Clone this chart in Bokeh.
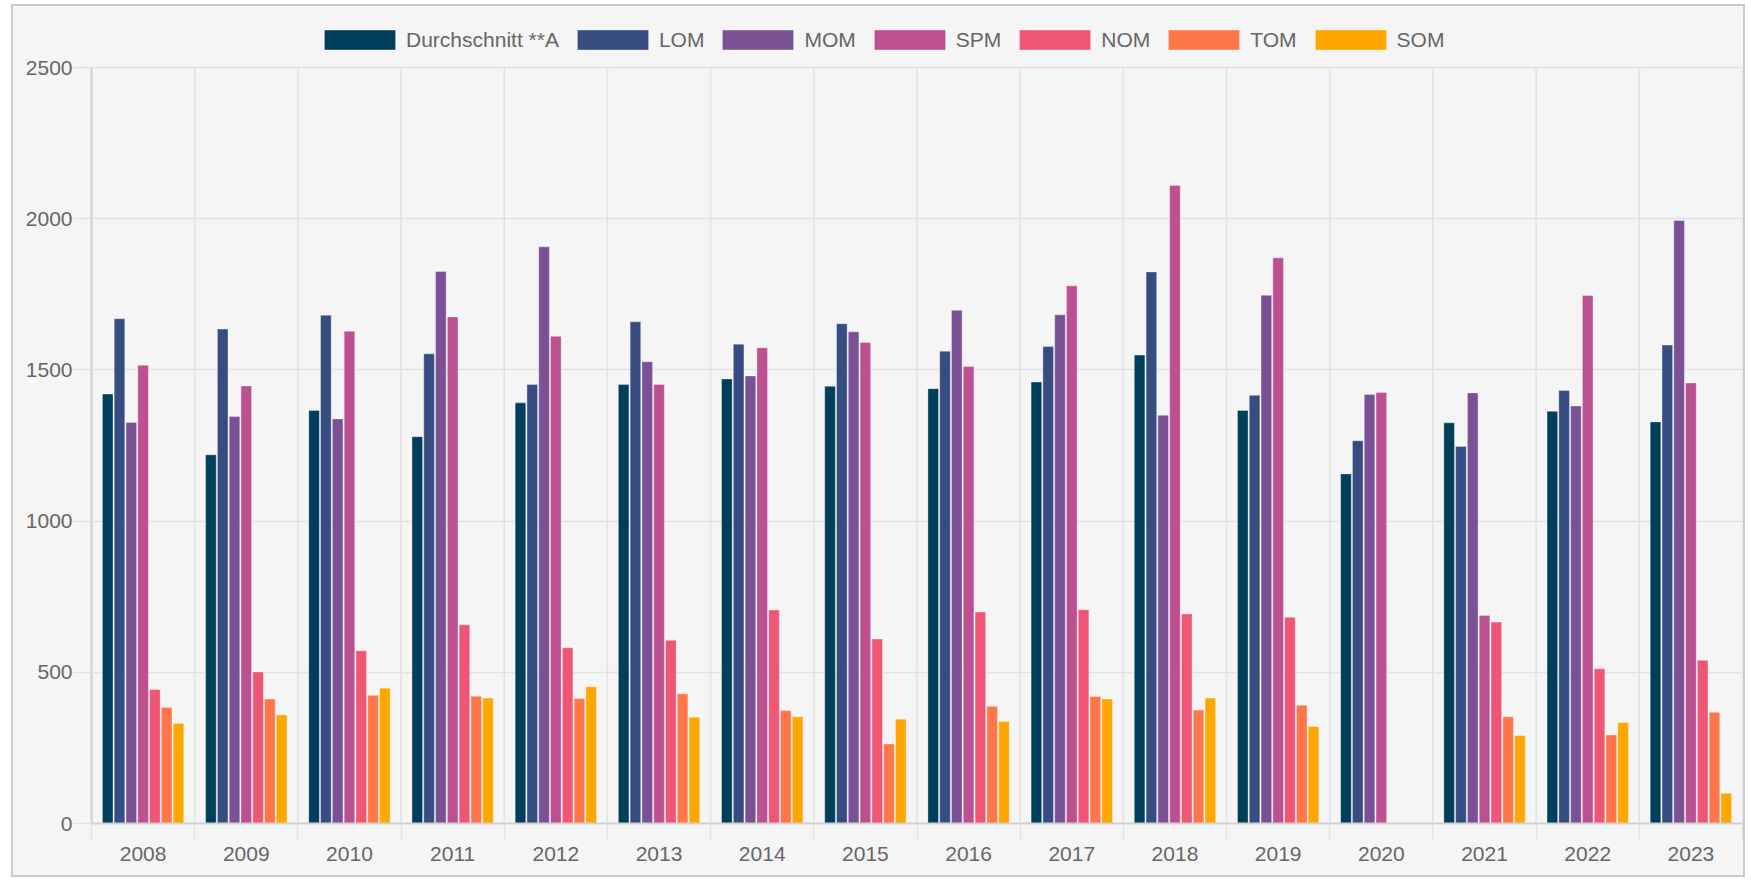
from bokeh.plotting import figure
from bokeh.models import Range1d, FixedTicker, Legend, LegendItem, ColumnDataSource
from bokeh.transform import dodge
from bokeh.embed import file_html
from bokeh.resources import INLINE

nan = float("nan")

years = [str(y) for y in range(2008, 2024)]
series_names = ["Durchschnitt **A", "LOM", "MOM", "SPM", "NOM", "TOM", "SOM"]
colors = ["#003f5c", "#374c80", "#7a5195", "#bc5090", "#ef5675", "#ff764a", "#ffa600"]

durchschnitt = [1420, 1219, 1366, 1279, 1391, 1452, 1470, 1446, 1438, 1460, 1549, 1366, 1156, 1325, 1363, 1328]
lom = [1669, 1635, 1681, 1553, 1452, 1659, 1585, 1653, 1562, 1577, 1824, 1416, 1266, 1247, 1432, 1582]
mom = [1326, 1346, 1338, 1825, 1907, 1527, 1480, 1626, 1697, 1682, 1350, 1747, 1419, 1424, 1381, 1994]
spm = [1515, 1447, 1628, 1675, 1611, 1452, 1573, 1591, 1511, 1778, 2110, 1871, 1425, 688, 1746, 1457]
nom = [443, 501, 571, 657, 581, 606, 706, 610, 699, 707, 693, 682, nan, 666, 512, 540]
tom = [384, 412, 424, 421, 413, 429, 374, 263, 388, 420, 375, 391, nan, 353, 293, 368]
som = [331, 359, 447, 415, 452, 351, 353, 345, 337, 412, 415, 321, nan, 291, 334, 100]

y_ticks = [0, 500, 1000, 1500, 2000, 2500]

series_values = [durchschnitt, lom, mom, spm, nom, tom, som]

FONT = "Liberation Sans"
TXT = "#666666"
GRID = "#e2e2e2"
AXIS = "#d0d0d0"
BG = "#f5f5f5"

n = len(years)
centers = [i + 0.5 for i in range(n)]
bounds = list(range(n + 1))
y_max = y_ticks[-1]

# layout (pixels): frame spans 12..823 vertically, value axis 0..2500 spans 823..67
frame_h = 823 - 12
axis_px = 823 - 67
y_top = y_max * frame_h / axis_px

p = figure(
    width=1734, height=873,
    x_range=Range1d(0, n), y_range=Range1d(0, y_top),
    output_backend="svg", toolbar_location=None,
    min_border_left=78, min_border_right=5, min_border_top=6, min_border_bottom=56,
    background_fill_color=BG, border_fill_color=BG, outline_line_color=None,
    styles={"border": "2px solid #cacaca", "margin-left": "11px", "margin-top": "4px"},
)

# x axis: labels at category centres, tick marks (minor) at category boundaries
xa = p.xaxis[0]
xa.ticker = FixedTicker(ticks=centers, minor_ticks=bounds)
xa.major_label_overrides = {c: y for c, y in zip(centers, years)}
xa.major_tick_out = 16
xa.major_tick_in = 0
xa.major_tick_line_color = None
xa.minor_tick_out = 16
xa.minor_tick_in = 0
xa.minor_tick_line_color = GRID
xa.minor_tick_line_width = 1.5
xa.axis_line_color = AXIS
xa.axis_line_width = 2
xa.major_label_standoff = 7
xa.major_label_text_font = FONT
xa.major_label_text_font_size = "21px"
xa.major_label_text_color = TXT

ya = p.yaxis[0]
ya.ticker = FixedTicker(ticks=y_ticks)
ya.bounds = (0, y_max)
ya.major_tick_out = 18
ya.major_tick_in = 0
ya.major_tick_line_color = GRID
ya.major_tick_line_width = 1.5
ya.minor_tick_line_color = None
ya.axis_line_color = AXIS
ya.axis_line_width = 2
ya.major_label_standoff = 1
ya.major_label_text_font = FONT
ya.major_label_text_font_size = "21px"
ya.major_label_text_color = TXT

p.xgrid.grid_line_color = None
p.ygrid.ticker = FixedTicker(ticks=y_ticks)
p.ygrid.grid_line_color = GRID
p.ygrid.grid_line_width = 1.5

# vertical grid lines at category boundaries, limited to the value axis extent
gsrc = ColumnDataSource(dict(x=bounds, y0=[0] * len(bounds), y1=[y_max] * len(bounds)))
p.segment(x0="x", y0="y0", x1="x", y1="y1", source=gsrc,
          line_color=GRID, line_width=1.5, level="underlay")

k_count = len(series_names)
slot = 0.8 / k_count
items = []
for k, (name, vals, col) in enumerate(zip(series_names, series_values, colors)):
    src = ColumnDataSource(dict(x=centers, top=vals))
    r = p.vbar(
        x=dodge("x", (k - (k_count - 1) / 2) * slot, range=p.x_range),
        top="top", bottom=0, width=slot * 0.9, source=src,
        fill_color=col, line_color="white", line_alpha=0.35, line_width=1,
    )
    items.append(LegendItem(label=name, renderers=[r]))

legend = Legend(
    items=items, orientation="horizontal", location=(224, 771),
    glyph_width=89, glyph_height=25, label_standoff=2, spacing=9,
    padding=0, margin=0, border_line_color=None, background_fill_alpha=0,
    label_text_font=FONT, label_text_font_size="21px", label_text_color=TXT,
)
p.add_layout(legend)

open("out.html", "w").write(file_html(p, INLINE))
